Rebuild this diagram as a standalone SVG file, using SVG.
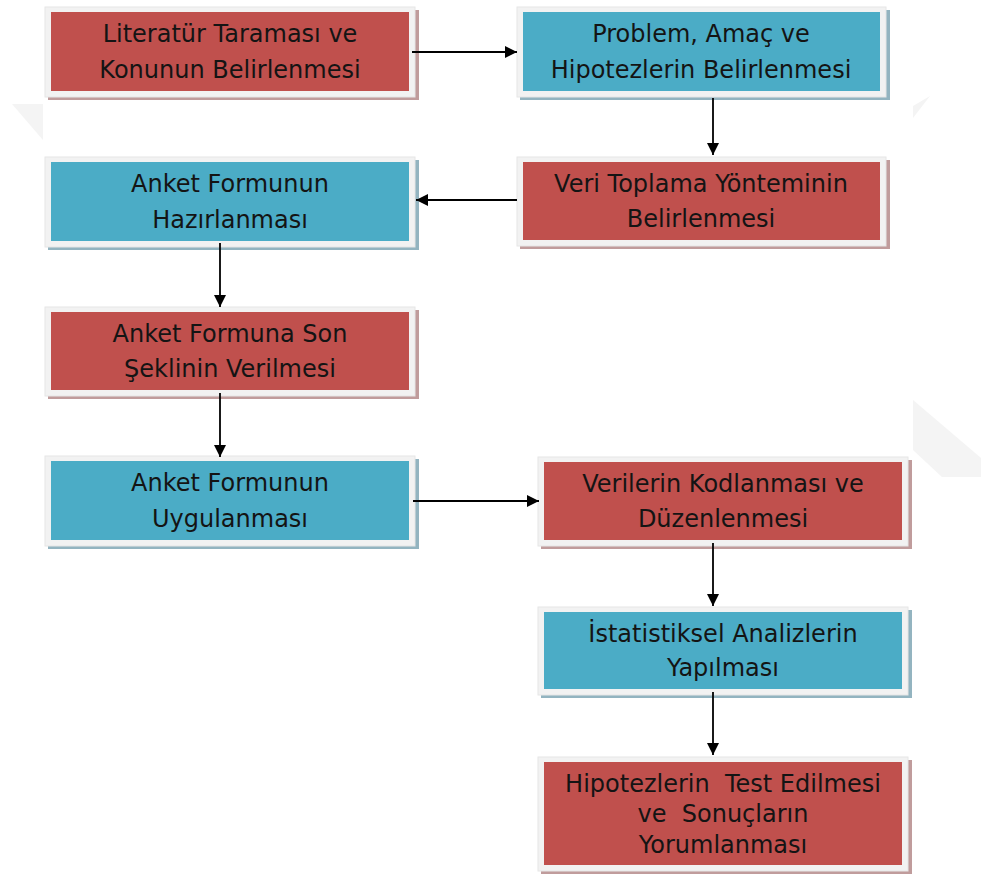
<svg xmlns="http://www.w3.org/2000/svg" width="981" height="874" viewBox="0 0 981 874">
<style>
.frame{fill:#f2f2f2;stroke:#e6e6e6;stroke-width:1}
.red{fill:#c0504d}
.blue{fill:#4bacc6}
.shr{fill:#c09c9c}
.shb{fill:#93b4c0}
.t{font-family:"DejaVu Sans","Liberation Sans",sans-serif;font-size:24px;fill:#141414;text-anchor:middle;white-space:pre}
.wm{fill:#f4f4f4}
.c{stroke:#000;stroke-width:1.8;fill:none;marker-end:url(#ah)}
</style>
<defs>
<marker id="ah" viewBox="0 0 12 12" refX="12" refY="6" markerWidth="12" markerHeight="12" markerUnits="userSpaceOnUse" orient="auto">
<path d="M0,0 L12,6 L0,12 Z" fill="#000"/>
</marker>
</defs>
<rect width="981" height="874" fill="#fff"/>
<g id="watermark">
<polygon class="wm" points="12,104 43,104 43,140"/>
<polygon class="wm" points="913,106 930,96 913,118"/>
<polygon class="wm" points="913,400 981,458 981,477 942,477 913,450"/>
</g>
<g id="n1">
<rect class="shr" x="48" y="10" width="371" height="90"/>
<rect class="frame" x="45" y="7" width="370" height="90"/>
<rect class="red" x="51" y="12" width="358" height="79"/>
<text class="t" x="230" y="42">Literatür Taraması ve</text>
<text class="t" x="230" y="78">Konunun Belirlenmesi</text>
</g>
<g id="n2">
<rect class="shb" x="520" y="10" width="370" height="90"/>
<rect class="frame" x="517" y="7" width="369" height="90"/>
<rect class="blue" x="523" y="12" width="357" height="79"/>
<text class="t" x="701" y="42">Problem, Amaç ve</text>
<text class="t" x="701" y="78">Hipotezlerin Belirlenmesi</text>
</g>
<g id="n3">
<rect class="shr" x="520" y="160" width="370" height="89"/>
<rect class="frame" x="517" y="157" width="369" height="89"/>
<rect class="red" x="523" y="162" width="357" height="78"/>
<text class="t" x="701" y="192">Veri Toplama Yönteminin</text>
<text class="t" x="701" y="227">Belirlenmesi</text>
</g>
<g id="n4">
<rect class="shb" x="48" y="160" width="371" height="90"/>
<rect class="frame" x="45" y="157" width="370" height="90"/>
<rect class="blue" x="51" y="162" width="358" height="79"/>
<text class="t" x="230" y="192">Anket Formunun</text>
<text class="t" x="230" y="228">Hazırlanması</text>
</g>
<g id="n5">
<rect class="shr" x="48" y="310" width="371" height="89"/>
<rect class="frame" x="45" y="307" width="370" height="89"/>
<rect class="red" x="51" y="312" width="358" height="78"/>
<text class="t" x="230" y="342">Anket Formuna Son</text>
<text class="t" x="230" y="377">Şeklinin Verilmesi</text>
</g>
<g id="n6">
<rect class="shb" x="48" y="459" width="371" height="90"/>
<rect class="frame" x="45" y="456" width="370" height="90"/>
<rect class="blue" x="51" y="461" width="358" height="79"/>
<text class="t" x="230" y="491">Anket Formunun</text>
<text class="t" x="230" y="527">Uygulanması</text>
</g>
<g id="n7">
<rect class="shr" x="541" y="460" width="371" height="89"/>
<rect class="frame" x="538" y="457" width="370" height="89"/>
<rect class="red" x="544" y="462" width="358" height="78"/>
<text class="t" x="723" y="492">Verilerin Kodlanması ve</text>
<text class="t" x="723" y="527">Düzenlenmesi</text>
</g>
<g id="n8">
<rect class="shb" x="541" y="610" width="371" height="88"/>
<rect class="frame" x="538" y="607" width="370" height="88"/>
<rect class="blue" x="544" y="612" width="358" height="77"/>
<text class="t" x="723" y="642">İstatistiksel Analizlerin</text>
<text class="t" x="723" y="676">Yapılması</text>
</g>
<g id="n9">
<rect class="shr" x="541" y="760" width="371" height="114"/>
<rect class="frame" x="538" y="757" width="370" height="114"/>
<rect class="red" x="544" y="762" width="358" height="103"/>
<text class="t" x="723" y="792">Hipotezlerin  Test Edilmesi</text>
<text class="t" x="723" y="822">ve  Sonuçların</text>
<text class="t" x="723" y="853">Yorumlanması</text>
</g>
<g id="connectors">
<line class="c" x1="412" y1="52" x2="517" y2="52"/>
<line class="c" x1="713" y1="98" x2="713" y2="155"/>
<line class="c" x1="517" y1="200" x2="416" y2="200"/>
<line class="c" x1="220" y1="243" x2="220" y2="307"/>
<line class="c" x1="220" y1="393" x2="220" y2="457"/>
<line class="c" x1="413" y1="501" x2="539" y2="501"/>
<line class="c" x1="713" y1="543" x2="713" y2="606"/>
<line class="c" x1="713" y1="692" x2="713" y2="755"/>
</g>
</svg>
